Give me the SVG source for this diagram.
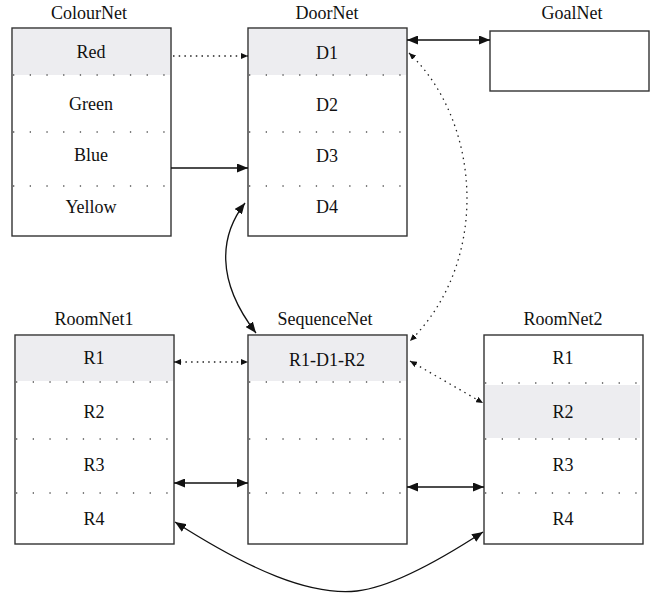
<svg xmlns="http://www.w3.org/2000/svg" width="662" height="594" viewBox="0 0 662 594">
<style>
text{font-family:'Liberation Serif','Times New Roman','DejaVu Serif',serif;font-size:18px;fill:#111;text-anchor:middle}
.box{fill:#fff;stroke:#333;stroke-width:1.4}
.hl{fill:#ededf0}
.sep{stroke:#555;stroke-width:1.3;stroke-dasharray:1.3 15.4;fill:none}
.solid{stroke:#111;stroke-width:1.3;fill:none}
.dot{stroke:#222;stroke-width:1.3;stroke-dasharray:1.5 4.2;fill:none}
</style>
<defs>
<marker id="ah" viewBox="0 0 11 9" refX="11" refY="4.5" markerWidth="11" markerHeight="9" markerUnits="userSpaceOnUse" orient="auto-start-reverse">
<path d="M0,0 L11,4.5 L0,9 Z" fill="#111"/>
</marker>
<marker id="ahs" viewBox="0 0 7 6" refX="7" refY="3" markerWidth="7" markerHeight="6" markerUnits="userSpaceOnUse" orient="auto-start-reverse">
<path d="M0,0 L7,3 L0,6 Z" fill="#111"/>
</marker>
</defs>

<g id="ColourNet">
<text x="89" y="19">ColourNet</text>
<rect class="box" x="12" y="28" width="159" height="208"/>
<rect class="hl" x="13" y="29" width="157" height="46"/>
<path class="sep" d="M13,75H171M13,132H171M13,186H171"/>
<text x="91" y="58">Red</text>
<text x="91" y="110">Green</text>
<text x="91" y="161">Blue</text>
<text x="91" y="213">Yellow</text>
</g>

<g id="DoorNet">
<text x="327" y="19">DoorNet</text>
<rect class="box" x="248" y="28" width="159" height="208"/>
<rect class="hl" x="249" y="29" width="157" height="46"/>
<path class="sep" d="M249,75H407M249,132H407M249,186H407"/>
<text x="327" y="59">D1</text>
<text x="327" y="111">D2</text>
<text x="327" y="162">D3</text>
<text x="327" y="213">D4</text>
</g>

<g id="GoalNet">
<text x="572" y="19">GoalNet</text>
<rect class="box" x="490" y="31" width="159" height="60"/>
</g>

<g id="RoomNet1">
<text x="94" y="325">RoomNet1</text>
<rect class="box" x="15" y="335" width="159" height="209"/>
<rect class="hl" x="16" y="336" width="157" height="45"/>
<path class="sep" d="M16,382H174M16,439H174M16,493H174"/>
<text x="94" y="364">R1</text>
<text x="94" y="418">R2</text>
<text x="94" y="471">R3</text>
<text x="94" y="525">R4</text>
</g>

<g id="SequenceNet">
<text x="325" y="325">SequenceNet</text>
<rect class="box" x="248" y="335" width="159" height="209"/>
<rect class="hl" x="249" y="336" width="157" height="45"/>
<path class="sep" d="M249,382H407M249,439H407M249,493H407"/>
<text x="327" y="366">R1-D1-R2</text>
</g>

<g id="RoomNet2">
<text x="563" y="325">RoomNet2</text>
<rect class="box" x="484" y="335" width="159" height="209"/>
<rect class="hl" x="485" y="385" width="155" height="53"/>
<path class="sep" d="M485,383H643M485,439H643M485,493H643"/>
<text x="563" y="364">R1</text>
<text x="563" y="418">R2</text>
<text x="563" y="471">R3</text>
<text x="563" y="525">R4</text>
</g>

<g id="connectors">
<path class="dot" d="M173,56H248" marker-end="url(#ahs)"/>
<path class="solid" d="M171,168H248" marker-end="url(#ah)"/>
<path class="solid" d="M407,40H490" marker-start="url(#ah)" marker-end="url(#ah)"/>
<path class="dot" d="M409,53C480,120 492,260 410,341" marker-start="url(#ahs)" marker-end="url(#ahs)"/>
<path class="solid" d="M245,203C220,235 215,280 256,333" marker-start="url(#ah)" marker-end="url(#ah)"/>
<path class="dot" d="M174,362H248" marker-start="url(#ahs)" marker-end="url(#ahs)"/>
<path class="dot" d="M410,361L483,403" marker-start="url(#ahs)" marker-end="url(#ahs)"/>
<path class="solid" d="M174,483H248" marker-start="url(#ah)" marker-end="url(#ah)"/>
<path class="solid" d="M407,487H484" marker-start="url(#ah)" marker-end="url(#ah)"/>
<path class="solid" d="M175,522C250,570 310,596 357,591C392,587 440,560 483,532" marker-start="url(#ah)" marker-end="url(#ah)"/>
</g>
</svg>
